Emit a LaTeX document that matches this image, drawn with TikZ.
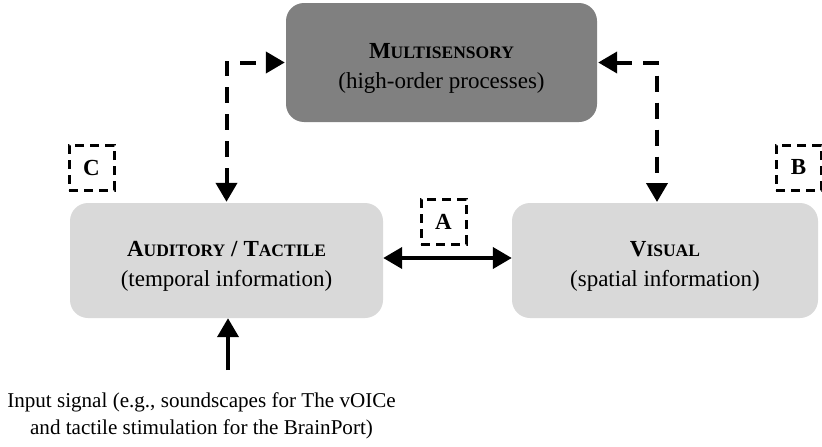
\documentclass[tikz,border=0pt]{standalone}
\usepackage{fontspec}
\setmainfont{Liberation Serif}
\usetikzlibrary{arrows.meta}
\newcommand{\fsc}[2]{\textbf{#1{\fontsize{17.5}{20}\selectfont #2}}}
\newcommand{\lift}{\rule{0pt}{27pt}}
\begin{document}
\begin{tikzpicture}[x=1pt,y=-1pt,
  box/.style={rounded corners=18pt, minimum height=#1, inner sep=0pt, align=center, font=\fontsize{23}{30}\selectfont},
  lbox/.style={box=115pt, fill=black!15},
  tag/.style={draw, line width=3pt, dash pattern=on 9pt off 6pt, minimum width=45pt, minimum height=45pt, inner sep=0pt, font=\fontsize{23}{26}\selectfont\bfseries},
  dconn/.style={line width=4pt, dash pattern=on 16pt off 11pt, {Triangle[length=19pt,width=21pt]}-{Triangle[length=19pt,width=21pt]}, shorten <=1pt, shorten >=1pt},
  sconn/.style={line width=4pt},
]
\useasboundingbox (0,0) rectangle (822,447);
\node[box=119pt, fill=black!50, minimum width=311pt] (multi) at (441.5,62.5) {\lift\fsc{M}{ULTISENSORY}\\(high-order processes)};
\node[lbox, minimum width=313pt] (aud) at (226.5,260.5) {\lift\fsc{A}{UDITORY} \textbf{/} \fsc{T}{ACTILE}\\(temporal information)};
\node[lbox, minimum width=306pt] (vis) at (665,260.5) {\lift\fsc{V}{ISUAL}\\(spatial information)};
\node[tag] (C) at (91.5,167.5) {C};
\node[tag] (A) at (443.5,221.5) {A};
\node[tag] (B) at (798.5,167.5) {B};
\node[align=center, font=\fontsize{21.1}{27}\selectfont] (input) at (201.5,415.5) {Input signal (e.g., soundscapes for The vOICe\\and tactile stimulation for the BrainPort)};
\coordinate (rc) at (657,203);
\coordinate (inp) at (228,370);
\draw[dconn] (aud.north) |- (multi.west);
\draw[dconn] (multi.east) -| (rc);
\draw[sconn, {Triangle[length=19pt,width=21pt]}-{Triangle[length=19pt,width=21pt]}] ([yshift=2.5pt]aud.east) -- ([yshift=2.5pt]vis.west);
\draw[sconn, -{Triangle[length=19pt,width=21pt]}] (inp) -- (inp |- aud.south);
\end{tikzpicture}
\end{document}
